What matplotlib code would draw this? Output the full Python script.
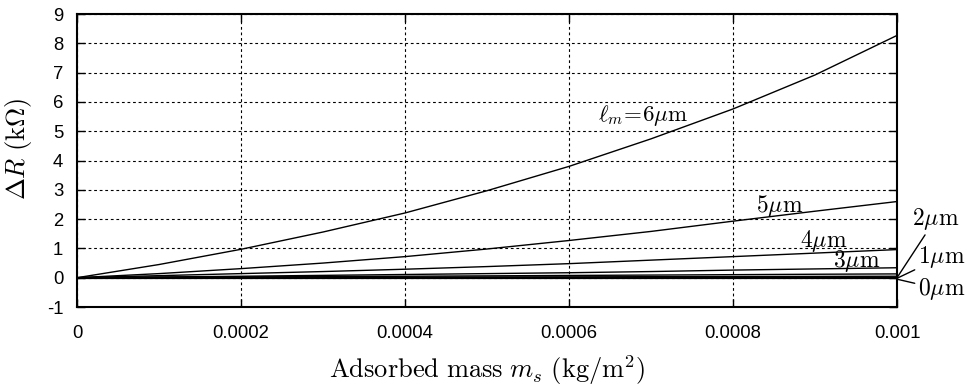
## Resistance change vs adsorbed mass, for several membrane lengths
import numpy as np
import matplotlib.pyplot as plt

plt.rcParams["mathtext.fontset"] = "cm"
plt.rcParams["font.family"] = ["Liberation Sans", "DejaVu Sans"]
plt.rcParams["axes.unicode_minus"] = False

## adsorbed mass (kg/m^2)
mass = [0, 0.0001, 0.0002, 0.0003, 0.0004, 0.0005, 0.0006, 0.0007, 0.0008, 0.0009, 0.001]

## delta R (kOhm) for each length
dr_6um = [0, 0.45, 0.97, 1.56, 2.21, 2.97, 3.8, 4.74, 5.76, 6.92, 8.27]
dr_5um = [0, 0.14, 0.31, 0.5, 0.72, 0.98, 1.27, 1.58, 1.93, 2.27, 2.6]
dr_4um = [0, 0.07, 0.14, 0.21, 0.29, 0.38, 0.48, 0.6, 0.72, 0.84, 0.96]
dr_3um = [0, 0.025, 0.05, 0.08, 0.11, 0.14, 0.17, 0.21, 0.26, 0.3, 0.34]
dr_2um = [0, 0.012, 0.025, 0.038, 0.05, 0.063, 0.077, 0.09, 0.104, 0.118, 0.13]
dr_1um = [0, 0.005, 0.01, 0.015, 0.02, 0.025, 0.03, 0.035, 0.04, 0.045, 0.05]
dr_0um = [0, 0, 0, 0, 0, 0, 0, 0, 0, 0, 0]

x_ticks = [0, 0.0002, 0.0004, 0.0006, 0.0008, 0.001]
x_labels = ["0", "0.0002", "0.0004", "0.0006", "0.0008", "0.001"]
y_ticks = [-1, 0, 1, 2, 3, 4, 5, 6, 7, 8, 9]

fig = plt.figure(figsize=(9.69, 3.90), dpi=100)
ax = fig.add_axes([0.0795, 0.2128, 0.8462, 0.7512])

for series in [dr_6um, dr_5um, dr_4um, dr_3um, dr_2um, dr_1um]:
    ax.plot(mass, series, color="black", lw=1.0)
ax.plot(mass, dr_0um, color="black", lw=1.6)

ax.set_xlim(0, 0.001)
ax.set_ylim(-1, 9)
ax.set_xticks(x_ticks)
ax.set_xticklabels(x_labels)
ax.set_yticks(y_ticks)

## dotted grid like gnuplot
ax.grid(True, color="black", linestyle=(0, (2.5, 2.5)), linewidth=0.8)
ax.tick_params(direction="in", length=6, width=1, top=True, right=True,
               labelsize=13.3)
ax.tick_params(axis="x", pad=13)
ax.tick_params(axis="y", pad=10)
for sp in ax.spines.values():
    sp.set_linewidth(1.5)

ax.set_xlabel(r"$\mathrm{Adsorbed\ mass}\ m_s\ \mathrm{(kg/m^2)}$", fontsize=19, labelpad=8)
ax.set_ylabel(r"$\mathit{\Delta}R\ \mathrm{(k\Omega)}$", fontsize=19)
ax.yaxis.set_label_coords(-0.052, 0.54)

## curve labels
ax.text(0.000690, 5.55, r"$\ell_m\!=\!6\mu\mathrm{m}$", fontsize=16.5, ha="center", va="center")
ax.text(0.000857, 2.45, r"$5\mu\mathrm{m}$", fontsize=17, ha="center", va="center")
ax.text(0.000910, 1.26, r"$4\mu\mathrm{m}$", fontsize=17, ha="center", va="center")
ax.text(0.000951, 0.58, r"$3\mu\mathrm{m}$", fontsize=17, ha="center", va="center")

## labels outside the right edge with leader lines
lead = dict(arrowstyle="-", color="black", lw=1, shrinkA=0, shrinkB=0)
ax.annotate(r"$2\mu\mathrm{m}$", xy=(0.001, 0.0), xytext=(0.001018, 2.0),
            fontsize=17, ha="left", va="center", annotation_clip=False, arrowprops=lead)
ax.annotate(r"$1\mu\mathrm{m}$", xy=(0.001, -0.02), xytext=(0.001025, 0.7),
            fontsize=17, ha="left", va="center", annotation_clip=False, arrowprops=lead)
ax.annotate(r"$0\mu\mathrm{m}$", xy=(0.001, -0.05), xytext=(0.001025, -0.4),
            fontsize=17, ha="left", va="center", annotation_clip=False, arrowprops=lead)

plt.savefig("out.png", dpi=100)
